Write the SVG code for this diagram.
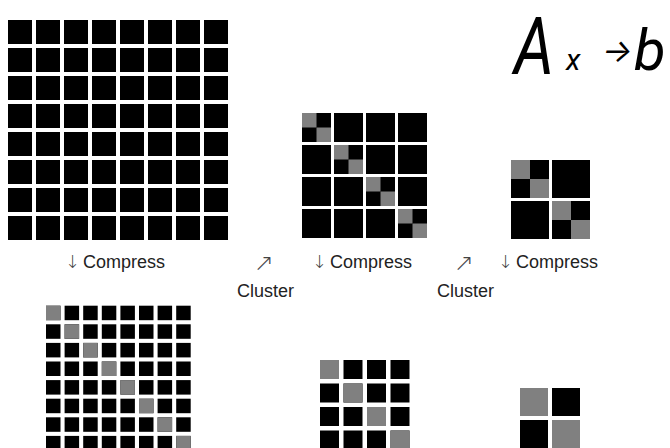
<svg xmlns="http://www.w3.org/2000/svg" width="670" height="448" viewBox="0 0 670 448">
<style>
.b{fill:#000}
.g{fill:#808080}
.lbl{font-family:"Liberation Sans",Arial,sans-serif;font-size:18px;fill:#222}
.arr{font-family:"DejaVu Sans",sans-serif;font-weight:200;fill:#444}
.hand{font-family:Roboto,Inter,"Noto Sans",sans-serif;fill:#000;font-style:italic;font-weight:400}
</style>
<defs>
<g id="r1"><rect class="b" x="8" y="0" width="24" height="24"/><rect class="b" x="36" y="0" width="24" height="24"/><rect class="b" x="64" y="0" width="24" height="24"/><rect class="b" x="92" y="0" width="24" height="24"/><rect class="b" x="120" y="0" width="24" height="24"/><rect class="b" x="148" y="0" width="24" height="24"/><rect class="b" x="176" y="0" width="24" height="24"/><rect class="b" x="204" y="0" width="24" height="24"/></g>
<g id="r4"><rect class="b" x="46" y="0" width="14.5" height="14.5"/><rect class="b" x="64.6" y="0" width="14.5" height="14.5"/><rect class="b" x="83.2" y="0" width="14.5" height="14.5"/><rect class="b" x="101.8" y="0" width="14.5" height="14.5"/><rect class="b" x="120.4" y="0" width="14.5" height="14.5"/><rect class="b" x="139" y="0" width="14.5" height="14.5"/><rect class="b" x="157.6" y="0" width="14.5" height="14.5"/><rect class="b" x="176.2" y="0" width="14.5" height="14.5"/></g>
<g id="r2"><rect class="b" x="302" y="0" width="29" height="29"/><rect class="b" x="334" y="0" width="29" height="29"/><rect class="b" x="366" y="0" width="29" height="29"/><rect class="b" x="398" y="0" width="29" height="29"/></g>
<g id="r5"><rect class="b" x="320" y="0" width="19" height="19"/><rect class="b" x="343.5" y="0" width="19" height="19"/><rect class="b" x="367" y="0" width="19" height="19"/><rect class="b" x="390.5" y="0" width="19" height="19"/></g>
</defs>

<g id="matrix-full">
<use href="#r1" y="20"/><use href="#r1" y="48"/><use href="#r1" y="76"/><use href="#r1" y="104"/>
<use href="#r1" y="132"/><use href="#r1" y="160"/><use href="#r1" y="188"/><use href="#r1" y="216"/>
</g>

<g id="matrix-4x4">
<use href="#r2" y="113"/><use href="#r2" y="145"/><use href="#r2" y="177"/><use href="#r2" y="209"/>
<rect class="g" x="302" y="113" width="14.5" height="14.5"/><rect class="g" x="316.5" y="127.5" width="14.5" height="14.5"/>
<rect class="g" x="334" y="145" width="14.5" height="14.5"/><rect class="g" x="348.5" y="159.5" width="14.5" height="14.5"/>
<rect class="g" x="366" y="177" width="14.5" height="14.5"/><rect class="g" x="380.5" y="191.5" width="14.5" height="14.5"/>
<rect class="g" x="398" y="209" width="14.5" height="14.5"/><rect class="g" x="412.5" y="223.5" width="14.5" height="14.5"/>
</g>

<g id="matrix-2x2">
<rect class="b" x="511" y="160" width="38" height="38"/><rect class="b" x="552" y="160" width="38" height="38"/>
<rect class="b" x="511" y="201" width="38" height="38"/><rect class="b" x="552" y="201" width="38" height="38"/>
<rect class="g" x="511" y="160" width="19" height="19"/><rect class="g" x="530" y="179" width="19" height="19"/>
<rect class="g" x="552" y="201" width="19" height="19"/><rect class="g" x="571" y="220" width="19" height="19"/>
</g>

<g id="compressed-8x8">
<use href="#r4" y="305.7"/><use href="#r4" y="324.3"/><use href="#r4" y="342.9"/><use href="#r4" y="361.5"/>
<use href="#r4" y="380.1"/><use href="#r4" y="398.7"/><use href="#r4" y="417.3"/><use href="#r4" y="435.9"/>
<rect class="g" x="46" y="305.7" width="14.5" height="14.5"/>
<rect class="g" x="64.6" y="324.3" width="14.5" height="14.5"/>
<rect class="g" x="83.2" y="342.9" width="14.5" height="14.5"/>
<rect class="g" x="101.8" y="361.5" width="14.5" height="14.5"/>
<rect class="g" x="120.4" y="380.1" width="14.5" height="14.5"/>
<rect class="g" x="139" y="398.7" width="14.5" height="14.5"/>
<rect class="g" x="157.6" y="417.3" width="14.5" height="14.5"/>
<rect class="g" x="176.2" y="435.9" width="14.5" height="14.5"/>
</g>

<g id="compressed-4x4">
<use href="#r5" y="360"/><use href="#r5" y="383.5"/><use href="#r5" y="407"/><use href="#r5" y="430.5"/>
<rect class="g" x="320" y="360" width="19" height="19"/>
<rect class="g" x="343.5" y="383.5" width="19" height="19"/>
<rect class="g" x="367" y="407" width="19" height="19"/>
<rect class="g" x="390.5" y="430.5" width="19" height="19"/>
</g>

<g id="compressed-2x2">
<rect class="g" x="520" y="388" width="28" height="28"/><rect class="b" x="552" y="388" width="28" height="28"/>
<rect class="b" x="520" y="420" width="28" height="28"/><rect class="g" x="552" y="420" width="28" height="28"/>
</g>

<g id="labels">
<text class="arr" x="65" y="268" font-size="18">↓</text>
<text class="lbl" x="83" y="268">Compress</text>
<text class="arr" x="254" y="271" font-size="24">↗</text>
<text class="lbl" x="237" y="297">Cluster</text>
<text class="arr" x="312" y="268" font-size="18">↓</text>
<text class="lbl" x="330" y="268">Compress</text>
<text class="arr" x="454" y="271" font-size="24">↗</text>
<text class="lbl" x="437" y="297">Cluster</text>
<text class="arr" x="498" y="268" font-size="18">↓</text>
<text class="lbl" x="516" y="268">Compress</text>
</g>

<g id="handwriting">
<text class="hand" x="514" y="74" font-size="80" textLength="40" lengthAdjust="spacingAndGlyphs">A</text>
<text class="hand" x="566" y="70" font-size="30">x</text>
<text class="hand" x="602" y="62" font-size="32">→</text>
<text class="hand" x="634" y="70" font-size="58">b</text>
</g>
</svg>
